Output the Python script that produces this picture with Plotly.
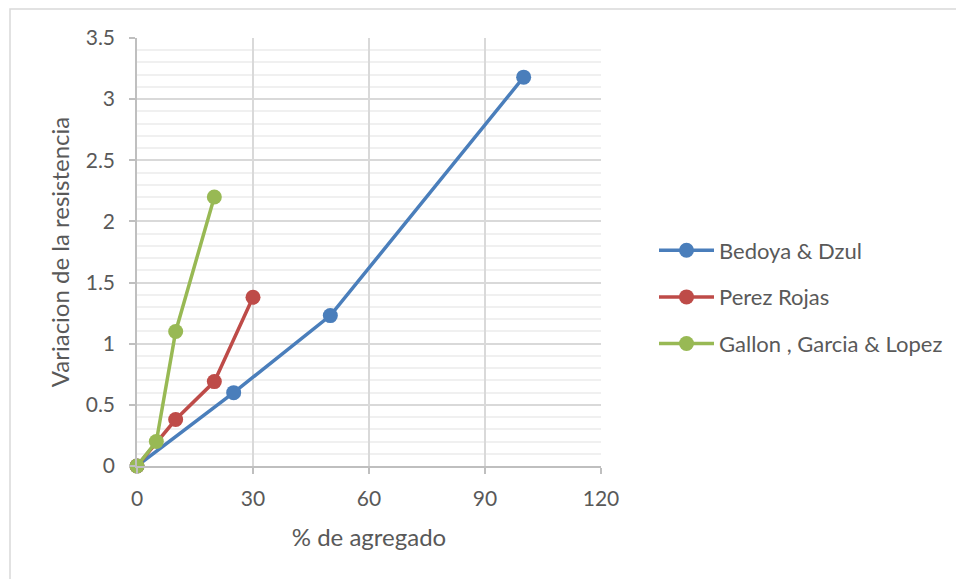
import plotly.graph_objects as go

# Series data: % of aggregate vs. variation in strength
bedoya_x = [0, 25, 50, 100]
bedoya_y = [0, 0.6, 1.23, 3.18]

perez_x = [0, 10, 20, 30]
perez_y = [0, 0.38, 0.69, 1.38]

gallon_x = [0, 5, 10, 20]
gallon_y = [0, 0.2, 1.1, 2.2]

series_names = ["Bedoya & Dzul", "Perez Rojas", "Gallon , Garcia & Lopez"]
series_colors = ["#4A7EBB", "#BE4B48", "#98B954"]

x_ticks = [0, 30, 60, 90, 120]
y_ticks = [0, 0.5, 1, 1.5, 2, 2.5, 3, 3.5]

W, H = 956, 579
ML, MR, MT, MB = 137, 355, 38, 113
PW, PH = W - ML - MR, H - MT - MB

FONT = "Lato, Calibri, 'Open Sans', sans-serif"
TEXT = "#595959"

fig = go.Figure()
for i, (xs, ys) in enumerate([(bedoya_x, bedoya_y), (perez_x, perez_y), (gallon_x, gallon_y)]):
    fig.add_trace(go.Scatter(
        x=xs, y=ys, mode="lines+markers", name=series_names[i],
        legendgroup=f"g{i}",
        line=dict(color=series_colors[i], width=3.5),
        marker=dict(color=series_colors[i], size=15),
        cliponaxis=False,
    ))

def px_to_paper_x(px):
    return (px - ML) / PW

def px_to_paper_y(py):
    return (H - MB - py) / PH

# Outer chart border
fig.add_shape(type="rect", xref="paper", yref="paper",
              x0=px_to_paper_x(10), x1=px_to_paper_x(W + 5),
              y0=px_to_paper_y(H + 5), y1=px_to_paper_y(9),
              line=dict(color="#D9D9D9", width=1.5), layer="below")

fig.update_layout(
    width=W, height=H,
    margin=dict(l=ML, r=MR, t=MT, b=MB, autoexpand=False),
    paper_bgcolor="white", plot_bgcolor="white",
    font=dict(family=FONT, size=21, color=TEXT),
    showlegend=True,
    legend=dict(x=px_to_paper_x(654), y=px_to_paper_y(297), xanchor="left", yanchor="middle",
                font=dict(size=22, color=TEXT), tracegroupgap=15, itemwidth=55,
                bgcolor="rgba(0,0,0,0)"),
    xaxis=dict(
        range=[0, 120], tickvals=x_ticks, ticktext=[str(v) for v in x_ticks],
        showgrid=True, gridcolor="#D9D9D9", gridwidth=1.5,
        showline=True, linecolor="#BFBFBF", linewidth=1.5,
        ticks="outside", ticklen=6, tickcolor="#BFBFBF", tickwidth=1.5,
        ticklabelstandoff=7,
        zeroline=False,
        title=dict(text="% de agregado", font=dict(size=24, color=TEXT), standoff=20),
        tickfont=dict(size=21, color=TEXT),
    ),
    yaxis=dict(
        range=[0, 3.5], tickvals=y_ticks, ticktext=[f"{v:g}" for v in y_ticks],
        showgrid=True, gridcolor="#D9D9D9", gridwidth=1.5,
        minor=dict(dtick=0.1, showgrid=True, gridcolor="#F0F0F0", gridwidth=1.5),
        showline=True, linecolor="#BFBFBF", linewidth=1.5,
        ticks="outside", ticklen=6, tickcolor="#BFBFBF", tickwidth=1.5,
        ticklabelstandoff=10,
        zeroline=False,
        title=dict(text="Variacion de la resistencia", font=dict(size=24, color=TEXT), standoff=9),
        tickfont=dict(size=21, color=TEXT),
    ),
)

fig.write_html("out.html")
